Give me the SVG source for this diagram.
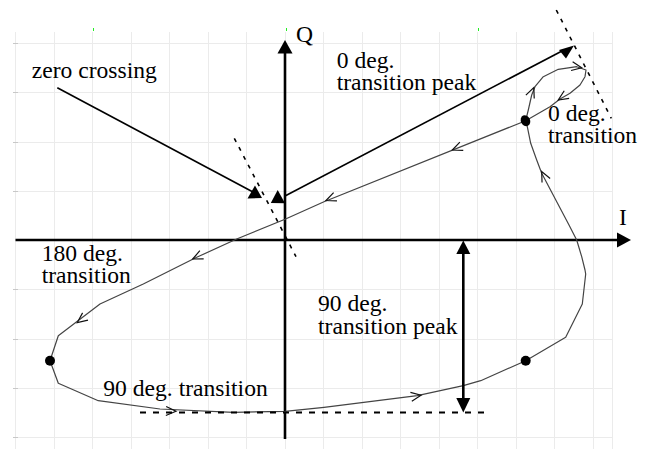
<svg xmlns="http://www.w3.org/2000/svg" width="649" height="449" viewBox="0 0 649 449">
<style>
.grid{stroke:#ebebeb;stroke-width:1;fill:none}
.tick{stroke:#c8c8c8;stroke-width:1}
.green{stroke:#22ee22;stroke-width:1}
.axis{stroke:#000;stroke-width:2.6;fill:none}
.lead{stroke:#000;stroke-width:1.6;fill:none}
.dash{stroke:#000;stroke-width:1.6;fill:none;stroke-dasharray:4 6}
.dash2{stroke:#000;stroke-width:2;fill:none;stroke-dasharray:6 7}
.curve{stroke:#444;stroke-width:1.2;fill:none;stroke-linejoin:round}
.chev{stroke:#111;stroke-width:1.2;fill:none}
.head{fill:#000}
.lbl{font-size:23.6px;fill:#000}
</style>
<defs>
<path id="chev" d="M-10,-4.5 L0,0 L-10,4.5" class="chev"/>
</defs>
<g id="grid">
<path class="grid" d="M15.5,32V449M54.5,32V449M92.5,32V449M131.5,32V449M169.5,32V449M208.5,32V449M246.5,32V449M285.5,32V449M323.5,32V449M362.5,32V449M400.5,32V449M439.5,32V449M477.5,32V449M516.5,32V449M554.5,32V449M593.5,32V449M612.5,32V449"/>
<path class="grid" d="M15.5,43.5H613M15.5,92.5H613M15.5,142.5H613M15.5,191.5H613M15.5,240.5H613M15.5,289.5H613M15.5,339.5H613M15.5,388.5H613M15.5,437.5H613"/>
<path class="tick" d="M13,43.5H18M13,92.5H18M13,142.5H18M13,191.5H18M13,289.5H18M13,339.5H18M13,388.5H18M13,437.5H18"/>
<path class="green" d="M93.5,28V31M286.5,28V31M478.5,28V31"/>
</g>
<g font-family="Liberation Serif, Times New Roman, DejaVu Serif, serif">
<g id="axes">
<path class="axis" d="M285,439V52"/>
<polygon class="head" points="285,40 277.5,53.5 292.5,53.5"/>
<path class="axis" d="M15.5,240H619"/>
<polygon class="head" points="631,240 617,232.5 617,247.5"/>
<text class="lbl" x="296" y="42">Q</text>
<text class="lbl" x="619" y="225">I</text>
</g>
<g id="curve">
<polyline class="curve" points="525.7,120.7 528.3,110 531.7,95 535,86.7 543.3,76.7 558.3,69.3 576.7,66.7 586,70 585,76.7 580,85 570,93.3 560,99 550,106.7 525.7,120.7 324,201.7 285,219.3 236.7,239 196.7,257.3 143.3,284 100,304 58.3,335.7 50,360.7 58.3,383.3 98.3,400.7 160,409 233.3,412.3 285,411.3 324,407.3 417.3,395.7 463.3,385.7 480.7,380.7 525.7,360.7 565.7,337.3 582.3,304 585.7,274 585,270 581.7,256.7 576.7,240 569,225 541.7,173.3 536.7,160 530.7,143.3 527.3,126.7 525.7,120.7"/>
</g>
<g id="dots">
<ellipse cx="525.5" cy="120.7" rx="4.6" ry="5.6" transform="rotate(-25 525.5 120.7)"/>
<circle cx="50" cy="360.7" r="5"/>
<circle cx="525.7" cy="360.7" r="5"/>
</g>
<g id="direction-arrows">
<use href="#chev" transform="translate(452.3,150) rotate(158)"/>
<use href="#chev" transform="translate(326,200.5) rotate(158)"/>
<use href="#chev" transform="translate(192.7,259) rotate(155)"/>
<use href="#chev" transform="translate(77.3,322.5) rotate(143)"/>
<use href="#chev" transform="translate(176,411.3) rotate(2)"/>
<use href="#chev" transform="translate(421,395.2) rotate(-9)"/>
<use href="#chev" transform="translate(541.7,171.5) rotate(-116)"/>
<use href="#chev" transform="translate(533.8,87.5) rotate(-68)"/>
<use href="#chev" transform="translate(581.7,67.8) rotate(10)"/>
<use href="#chev" transform="translate(558.3,100) rotate(147)"/>
</g>
<g id="tangents">
<path class="dash" d="M234.3,138.3L296,256.7"/>
<path class="dash" d="M556.3,10L611.3,118.3"/>
</g>
<g id="zero-crossing">
<text class="lbl" x="31.7" y="77.7">zero crossing</text>
<path class="lead" d="M57.3,87.7L253,192"/>
<polygon class="head" points="255,185.5 247.5,198.5 262,198"/>
</g>
<g id="zero-deg-peak">
<text class="lbl" x="336.7" y="68.3">0 deg.<tspan x="336.7" dy="21.7">transition peak</tspan></text>
<path class="lead" d="M285,196L562,51"/>
<polygon class="head" points="277.7,190 270.8,203 285,203.3"/>
<polygon class="head" points="559,50 574,45.5 566,58.5"/>
</g>
<g id="zero-deg">
<text class="lbl" x="548" y="121">0 deg.<tspan x="548" dy="22">transition</tspan></text>
</g>
<g id="one-eighty">
<text class="lbl" x="41.7" y="261.3">180 deg.<tspan x="41.7" dy="22">transition</tspan></text>
</g>
<g id="ninety">
<text class="lbl" x="103.3" y="395.7">90 deg. transition</text>
</g>
<g id="ninety-peak">
<text class="lbl" x="318" y="311">90 deg.<tspan x="318" dy="23">transition peak</tspan></text>
<path class="dash2" d="M140,412.5H488"/>
<path class="axis" d="M463.3,252V400"/>
<polygon class="head" points="463.3,240.5 456.3,254 470.3,254"/>
<polygon class="head" points="463.3,412.5 456.3,398 470.3,398"/>
</g>
</g>
</svg>
